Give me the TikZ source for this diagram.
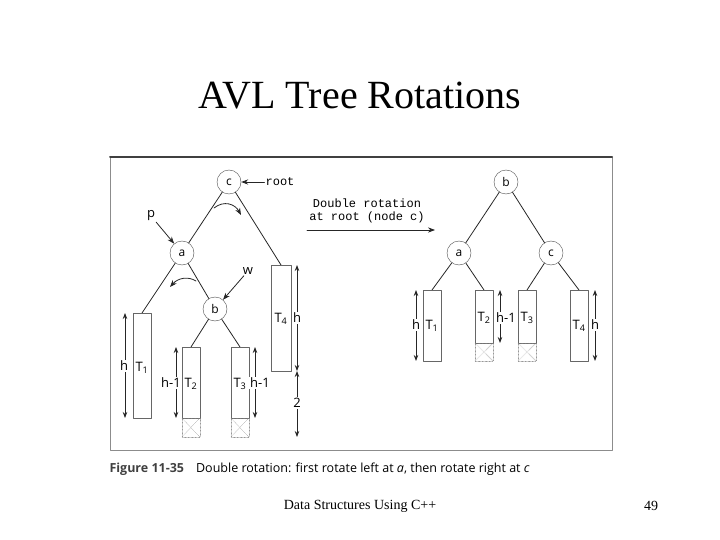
\documentclass[tikz,border=0pt]{standalone}
\usepackage{fontspec}
\setmainfont{Liberation Serif}
\setsansfont{Open Sans}
\setmonofont{Liberation Mono}
\usetikzlibrary{arrows.meta}

\tikzset{
  knot/.style={circle,draw=black!70,fill=white,minimum size=24pt,inner sep=0pt,font=\sffamily\fontsize{12}{14}\selectfont},
  subtree/.style={draw=black!60,thick},
  ghost/.style={draw=black!50,densely dotted},
  dim/.style={{Stealth[length=6pt]}-{Stealth[length=6pt]},thick,black!85},
  lbl/.style={font=\sffamily\fontsize{13}{15}\selectfont,inner sep=1pt},
  dimlbl/.style={lbl,fill=white},
  ptr/.style={-{Stealth[length=7pt]},thick,black!85},
  edge/.style={thick,black!85}
}
\newcommand{\ghostbox}[4]{% x1 y1 x2 y2
  \draw[ghost] (#1,#2) rectangle (#3,#4);
  \draw[ghost] (#1,#2) -- (#3,#4) (#1,#4) -- (#3,#2);}

\begin{document}
\begin{tikzpicture}[x=1pt,y=-1pt,line cap=round,line join=round]
\useasboundingbox (0,0) rectangle (720,540);

% title and footer
\node (title) at (360,96) {\fontsize{40}{44}\selectfont AVL Tree Rotations};
\node (foot) at (360,506) {\fontsize{14}{16}\selectfont Data Structures Using C++};
\node (page) at (651,506) {\fontsize{14}{16}\selectfont 49};

% frame
\draw[black!45,thick] (110,157) rectangle (612,450);
\draw[black!75,line width=2pt] (110,157) -- (612,157);
\node[anchor=west,font=\sffamily\fontsize{12.5}{14}\selectfont] (cap) at (106,469)
  {\textbf{\color{black!75}Figure 11-35}\hspace{12pt}Double rotation: first rotate left at \textit{a}, then rotate right at \textit{c}};

% left tree
\node[knot] (c) at (229,182) {c};
\node[knot] (a) at (182,253) {a};
\node[knot] (b) at (215,309) {b};
\coordinate (t1top) at (142,313);
\coordinate (t2top) at (191,347);
\coordinate (t3top) at (240,347);
\coordinate (t4top) at (281,265);
\draw[edge] (c) -- (a);
\draw[edge] (c) -- (t4top);
\draw[edge] (a) -- (t1top);
\draw[edge] (a) -- (b);
\draw[edge] (b) -- (t2top);
\draw[edge] (b) -- (t3top);

\draw[subtree] (133,313) rectangle (151,418);
\node[lbl] (T1) at (142,368) {T\textsubscript{1}};
\draw[subtree] (182,347) rectangle (200,418);
\node[lbl] (T2) at (191,384) {T\textsubscript{2}};
\ghostbox{182}{418}{200}{437}
\draw[subtree] (231,347) rectangle (249,418);
\node[lbl] (T3) at (240,384) {T\textsubscript{3}};
\ghostbox{231}{418}{249}{437}
\draw[subtree] (271,265) rectangle (291,371);
\node[lbl] (T4) at (281,319) {T\textsubscript{4}};

\draw[dim] (125,313) -- (125,418);
\node[dimlbl] at (124,366) {h};
\draw[dim] (176,347) -- (176,418);
\node[dimlbl] at (171,383) {h-1};
\draw[dim] (255,347) -- (255,418);
\node[dimlbl] at (260,383) {h-1};
\draw[dim] (297,265) -- (297,371);
\node[dimlbl] at (297,318) {h};
\draw[dim] (297,371) -- (297,437);
\node[dimlbl] at (297,403) {2};

\node[lbl,font=\ttfamily\fontsize{12}{14}\selectfont] (root) at (280,182) {root};
\draw[ptr] (root) -- (c);
\node[lbl] (p) at (151,216) {p};
\draw[ptr] (p) -- (a);
\node[lbl] (w) at (248,271) {w};
\draw[ptr] (w) -- (b);
\draw[ptr] (214,208) .. controls (224,200) and (235,204) .. (241,215);
\draw[ptr] (196,281) .. controls (188,276) and (178,278) .. (170,287);

% middle arrow
\node[font=\ttfamily\fontsize{12}{13}\selectfont,align=center] (note) at (367,211) {Double rotation\\at root (node c)};
\coordinate (m1) at (307,230);
\coordinate (m2) at (435,230);
\draw[ptr] (m1) -- (m2);

% right tree
\node[knot] (rb) at (506,182) {b};
\node[knot] (ra) at (459,253) {a};
\node[knot] (rc) at (551,253) {c};
\coordinate (r1top) at (432,290);
\coordinate (r2top) at (484,290);
\coordinate (r3top) at (527,290);
\coordinate (r4top) at (579,290);
\draw[edge] (rb) -- (ra);
\draw[edge] (rb) -- (rc);
\draw[edge] (ra) -- (r1top);
\draw[edge] (ra) -- (r2top);
\draw[edge] (rc) -- (r3top);
\draw[edge] (rc) -- (r4top);

\draw[subtree] (423,290) rectangle (441,361);
\node[lbl] at (432,326) {T\textsubscript{1}};
\draw[subtree] (475,290) rectangle (493,343);
\node[lbl] at (484,318) {T\textsubscript{2}};
\ghostbox{475}{343}{493}{361}
\draw[subtree] (518,290) rectangle (536,343);
\node[lbl] at (527,318) {T\textsubscript{3}};
\ghostbox{518}{343}{536}{361}
\draw[subtree] (570,290) rectangle (588,361);
\node[lbl] at (579,326) {T\textsubscript{4}};

\draw[dim] (416,290) -- (416,361);
\node[dimlbl] at (416,325) {h};
\draw[dim] (500,290) -- (500,343);
\node[dimlbl] at (506,318) {h-1};
\draw[dim] (595,290) -- (595,361);
\node[dimlbl] at (595,325) {h};
\end{tikzpicture}
\end{document}
